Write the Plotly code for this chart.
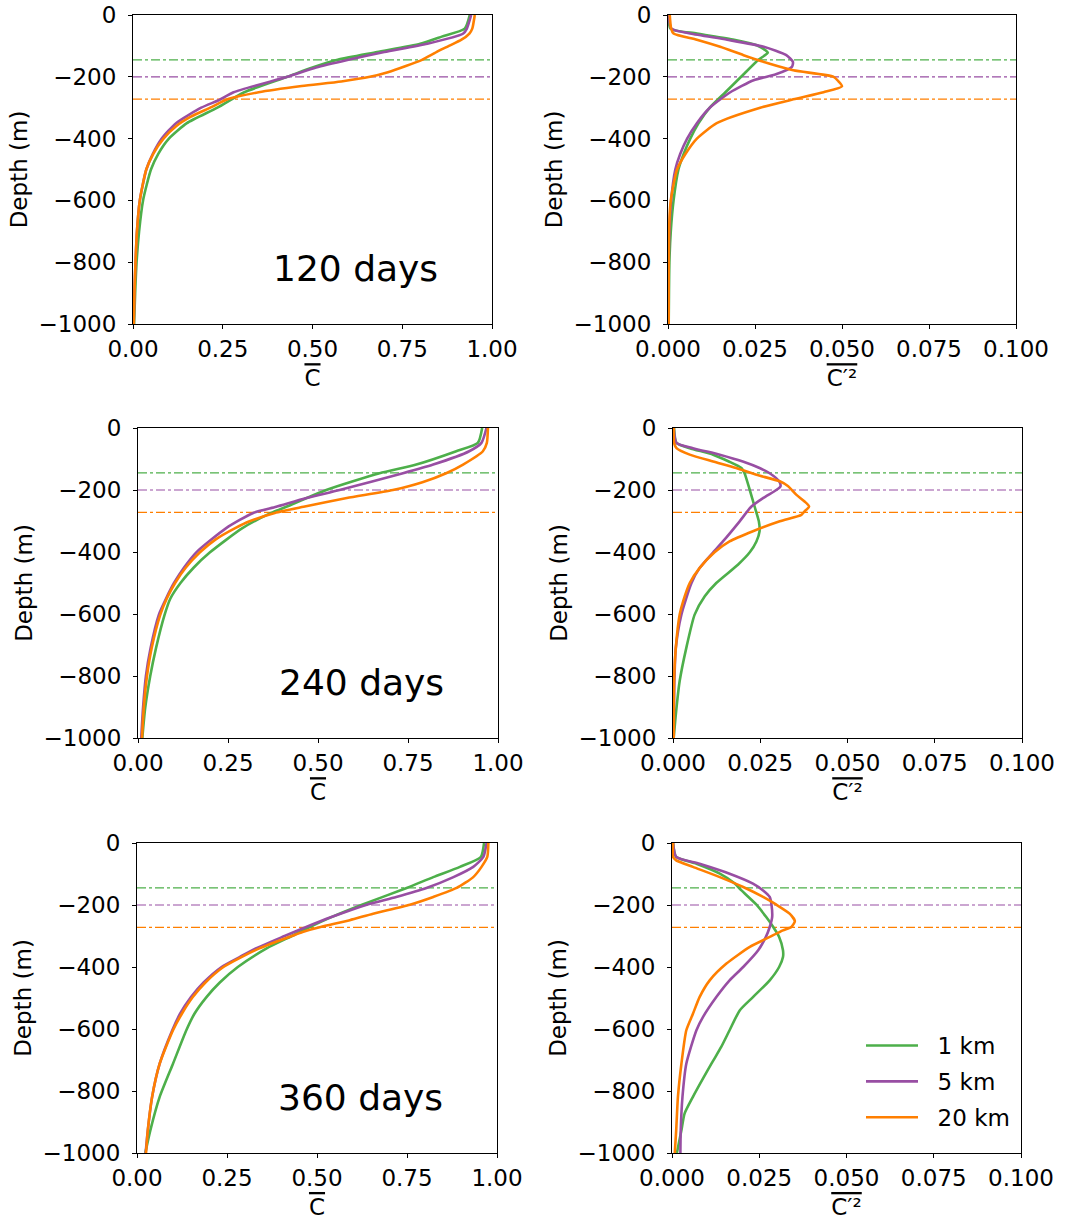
import plotly.graph_objects as go

# ---------------- data ----------------
labels = ["1 km", "5 km", "20 km"]
colors = ["#4daf4a", "#984ea3", "#ff7f00"]
days_labels = ["120 days", "240 days", "360 days"]
mld_depths = [-145, -200, -272]
ytick_vals = [0, -200, -400, -600, -800, -1000]
ytick_text = ["0", "\u2212200", "\u2212400", "\u2212600", "\u2212800", "\u22121000"]
xtick_mean = [0, 0.25, 0.5, 0.75, 1.0]
xtick_var = [0, 0.025, 0.05, 0.075, 0.1]

# 120 days, mean C
c120_1_z = [0, -44, -70, -93, -120, -145, -170, -200, -250, -300, -350, -400, -450, -500, -600, -700, -800, -900, -1000]
c120_1 = [0.938, 0.924, 0.86, 0.80, 0.68, 0.57, 0.50, 0.43, 0.31, 0.235, 0.15, 0.10, 0.07, 0.05, 0.028, 0.017, 0.01, 0.006, 0.003]
c120_5_z = [0, -44, -60, -93, -120, -145, -170, -200, -250, -275, -300, -350, -400, -450, -500, -600, -700, -800, -900, -1000]
c120_5 = [0.942, 0.93, 0.92, 0.82, 0.70, 0.60, 0.51, 0.43, 0.28, 0.24, 0.19, 0.12, 0.08, 0.055, 0.037, 0.019, 0.011, 0.007, 0.004, 0.002]
c120_20_z = [0, -44, -60, -80, -100, -120, -145, -165, -185, -200, -215, -230, -250, -272, -300, -330, -360, -400, -450, -500, -600, -700, -800, -900, -1000]
c120_20 = [0.952, 0.945, 0.937, 0.915, 0.88, 0.845, 0.805, 0.76, 0.71, 0.66, 0.58, 0.47, 0.35, 0.265, 0.215, 0.16, 0.12, 0.085, 0.056, 0.037, 0.019, 0.011, 0.007, 0.004, 0.002]

# 120 days, variance
v120_1_z = [0, -44, -60, -80, -98, -114, -122, -145, -200, -250, -300, -350, -400, -450, -500, -600, -700, -800, -1000]
v120_1 = [0.0002, 0.0007, 0.0083, 0.019, 0.0255, 0.028, 0.0287, 0.026, 0.021, 0.0165, 0.012, 0.0088, 0.0064, 0.0045, 0.003, 0.0016, 0.0008, 0.0004, 0.0002]
v120_5_z = [0, -44, -60, -80, -103, -130, -152, -168, -192, -211, -250, -300, -350, -400, -450, -500, -600, -700, -800, -1000]
v120_5 = [0.0002, 0.001, 0.0064, 0.017, 0.0275, 0.034, 0.0359, 0.0356, 0.031, 0.0246, 0.0179, 0.012, 0.0083, 0.0055, 0.0035, 0.0021, 0.0009, 0.0004, 0.0002, 0.0001]
v120_20_z = [0, -44, -60, -80, -103, -130, -157, -179, -200, -215, -231, -250, -273, -300, -350, -400, -450, -500, -600, -700, -1000]
v120_20 = [0.0005, 0.0009, 0.0016, 0.0083, 0.015, 0.0217, 0.029, 0.036, 0.0476, 0.049, 0.050, 0.0447, 0.036, 0.0265, 0.014, 0.0083, 0.005, 0.0026, 0.0008, 0.0003, 0.0002]

# 240 days, mean C
c240_1_z = [0, -48, -75, -118, -146, -200, -254, -274, -323, -401, -450, -500, -550, -602, -710, -800, -903, -1000]
c240_1 = [0.956, 0.944, 0.884, 0.773, 0.671, 0.523, 0.412, 0.37, 0.29, 0.20, 0.155, 0.118, 0.09, 0.074, 0.05, 0.034, 0.02, 0.012]
c240_5_z = [0, -48, -75, -118, -146, -200, -226, -254, -274, -323, -401, -450, -500, -550, -602, -710, -800, -903, -1000]
c240_5 = [0.968, 0.954, 0.92, 0.82, 0.736, 0.56, 0.468, 0.384, 0.32, 0.245, 0.162, 0.128, 0.10, 0.078, 0.058, 0.035, 0.022, 0.014, 0.009]
c240_20_z = [0, -48, -75, -118, -146, -175, -200, -226, -254, -274, -301, -323, -360, -401, -450, -500, -550, -602, -710, -800, -903, -1000]
c240_20 = [0.972, 0.969, 0.958, 0.903, 0.856, 0.79, 0.708, 0.58, 0.46, 0.38, 0.31, 0.27, 0.215, 0.172, 0.133, 0.103, 0.08, 0.062, 0.038, 0.025, 0.016, 0.011]

# 240 days, variance
v240_1_z = [0, -48, -65, -86, -108, -129, -146, -200, -254, -301, -333, -366, -401, -441, -500, -543, -602, -710, -817, -925, -1000]
v240_1 = [0.0003, 0.001, 0.0048, 0.0115, 0.016, 0.0196, 0.0205, 0.022, 0.0234, 0.0246, 0.0248, 0.0239, 0.022, 0.0186, 0.0124, 0.0091, 0.0062, 0.0038, 0.0019, 0.0008, 0.0002]
v240_5_z = [0, -48, -65, -86, -108, -129, -146, -172, -188, -200, -226, -254, -301, -366, -401, -452, -500, -602, -710, -817, -1000]
v240_5 = [0.0002, 0.001, 0.0057, 0.0134, 0.02, 0.0248, 0.0277, 0.0304, 0.0308, 0.0296, 0.0258, 0.0224, 0.0191, 0.0143, 0.0115, 0.0076, 0.0053, 0.0024, 0.0008, 0.0004, 0.0002]
v240_20_z = [0, -48, -65, -86, -108, -129, -151, -172, -188, -215, -237, -253, -269, -280, -301, -333, -366, -401, -452, -500, -559, -602, -710, -817, -1000]
v240_20 = [0.0002, 0.0003, 0.001, 0.0048, 0.0115, 0.0181, 0.0239, 0.0306, 0.033, 0.0353, 0.0377, 0.039, 0.0377, 0.0368, 0.0306, 0.0229, 0.0162, 0.0119, 0.0076, 0.0048, 0.0029, 0.0019, 0.0008, 0.0003, 0.0002]

# 360 days, mean C
c360_1_z = [0, -45, -77, -110, -145, -199, -239, -271, -300, -340, -400, -450, -497, -550, -604, -712, -819, -927, -1000]
c360_1 = [0.964, 0.955, 0.897, 0.823, 0.749, 0.625, 0.54, 0.48, 0.43, 0.36, 0.28, 0.23, 0.193, 0.16, 0.137, 0.10, 0.063, 0.037, 0.023]
c360_5_z = [0, -45, -77, -110, -145, -174, -199, -239, -271, -300, -340, -368, -400, -450, -497, -550, -604, -712, -819, -927, -1000]
c360_5 = [0.971, 0.962, 0.934, 0.879, 0.804, 0.72, 0.638, 0.54, 0.47, 0.41, 0.33, 0.285, 0.235, 0.185, 0.15, 0.12, 0.098, 0.063, 0.042, 0.03, 0.024]
c360_20_z = [0, -45, -77, -110, -145, -174, -199, -228, -249, -271, -287, -300, -340, -368, -400, -450, -497, -550, -604, -712, -819, -927, -1000]
c360_20 = [0.976, 0.973, 0.957, 0.934, 0.888, 0.823, 0.758, 0.656, 0.591, 0.51, 0.46, 0.43, 0.34, 0.29, 0.24, 0.19, 0.155, 0.125, 0.10, 0.063, 0.042, 0.03, 0.025]

# 360 days, variance
v360_1_z = [0, -45, -67, -99, -131, -153, -199, -239, -271, -303, -346, -368, -400, -443, -497, -540, -604, -658, -712, -819, -873, -927, -1000]
v360_1 = [0.0003, 0.0012, 0.007, 0.0137, 0.018, 0.0199, 0.0242, 0.027, 0.029, 0.0307, 0.0318, 0.0318, 0.0307, 0.028, 0.0232, 0.0194, 0.0165, 0.0141, 0.0113, 0.006, 0.0036, 0.0027, 0.0014]
v360_5_z = [0, -45, -67, -99, -131, -153, -174, -199, -239, -271, -303, -346, -400, -443, -497, -561, -604, -712, -819, -927, -1000]
v360_5 = [0.0003, 0.0012, 0.0079, 0.0165, 0.0232, 0.0261, 0.028, 0.0285, 0.0287, 0.028, 0.0269, 0.0247, 0.0204, 0.0165, 0.0127, 0.0089, 0.007, 0.0041, 0.003, 0.0025, 0.0024]
v360_20_z = [0, -45, -56, -77, -110, -142, -174, -199, -228, -252, -271, -282, -303, -335, -389, -443, -497, -551, -604, -712, -819, -927, -1000]
v360_20 = [0.0003, 0.0003, 0.0012, 0.006, 0.0137, 0.0204, 0.0261, 0.0299, 0.0337, 0.0352, 0.0342, 0.0318, 0.028, 0.0223, 0.0156, 0.0108, 0.0079, 0.006, 0.0041, 0.0027, 0.0017, 0.0012, 0.0008]

mean_panels = [
    [(c120_1, c120_1_z), (c120_5, c120_5_z), (c120_20, c120_20_z)],
    [(c240_1, c240_1_z), (c240_5, c240_5_z), (c240_20, c240_20_z)],
    [(c360_1, c360_1_z), (c360_5, c360_5_z), (c360_20, c360_20_z)],
]
var_panels = [
    [(v120_1, v120_1_z), (v120_5, v120_5_z), (v120_20, v120_20_z)],
    [(v240_1, v240_1_z), (v240_5, v240_5_z), (v240_20, v240_20_z)],
    [(v360_1, v360_1_z), (v360_5, v360_5_z), (v360_20, v360_20_z)],
]

# ---------------- layout geometry (pixels) ----------------
W, H = 1078, 1220
left_x = [(133, 492), (138, 498), (137, 497)]
right_x = [(668, 1016), (673, 1022), (672, 1021)]
rows_y = [(15, 324), (428, 738), (843, 1153)]

FONT = "DejaVu Sans"
fig = go.Figure()

def ax_names(i):
    n = "" if i == 1 else str(i)
    return "x" + n, "y" + n, "xaxis" + n, "yaxis" + n

layout = {}
for r in range(3):
    for c in range(2):
        idx = r * 2 + c + 1
        xr, yr, xk, yk = ax_names(idx)
        xpx = left_x[r] if c == 0 else right_x[r]
        ypx = rows_y[r]
        is_mean = (c == 0)
        xmax = 1.0 if is_mean else 0.1
        layout[xk] = dict(
            domain=[xpx[0] / W, xpx[1] / W], anchor=yr, range=[0, xmax],
            automargin=False,
            tickvals=xtick_mean if is_mean else xtick_var,
            tickformat=".2f" if is_mean else ".3f",
            showline=True, linecolor="black", linewidth=1, mirror=True,
            ticks="outside", ticklen=4, tickwidth=1, tickcolor="black",
            showgrid=False, zeroline=False,
            tickfont=dict(family=FONT, size=23, color="black"),
            title=dict(
                text=('<span style="text-decoration:overline">C</span>' if is_mean
                      else '<span style="text-decoration:overline">C\u2032\u00b2</span>'),
                font=dict(family=FONT, size=23, color="black"), standoff=9),
        )
        layout[yk] = dict(
            domain=[1 - ypx[1] / H, 1 - ypx[0] / H], anchor=xr, range=[-1000, 0],
            automargin=False,
            tickvals=ytick_vals, ticktext=ytick_text,
            showline=True, linecolor="black", linewidth=1, mirror=True,
            ticks="outside", ticklen=4, tickwidth=1, tickcolor="black",
            ticklabelstandoff=7,
            showgrid=False, zeroline=False,
            tickfont=dict(family=FONT, size=23, color="black"),
            title=dict(text="Depth (m)", font=dict(family=FONT, size=23, color="black"), standoff=4),
        )

        panel = mean_panels[r] if is_mean else var_panels[r]
        # mixed layer depth reference lines
        for k, d in enumerate(mld_depths):
            fig.add_trace(go.Scatter(
                x=[0, xmax], y=[d, d], mode="lines", xaxis=xr, yaxis=yr,
                line=dict(color=colors[k], width=1.2, dash="dashdot"),
                showlegend=False, hoverinfo="skip"))
        for k, (vals, zs) in enumerate(panel):
            fig.add_trace(go.Scatter(
                x=vals, y=zs, mode="lines", xaxis=xr, yaxis=yr,
                line=dict(color=colors[k], width=2.6, shape="spline", smoothing=0.6),
                name="\u00a0\u00a0" + labels[k], legendgroup=labels[k],
                showlegend=(r == 2 and c == 1)))
        if is_mean:
            fig.add_annotation(
                x=0.62, y=-820, xref=xr, yref=yr, text=days_labels[r],
                showarrow=False, font=dict(family=FONT, size=36, color="black"))

fig.update_layout(
    width=W, height=H, margin=dict(l=0, r=0, t=0, b=0),
    paper_bgcolor="white", plot_bgcolor="white",
    font=dict(family=FONT, color="black"),
    legend=dict(x=861 / W, y=1 - 1024 / H, xanchor="left", yanchor="top",
                font=dict(family=FONT, size=23, color="black"),
                bgcolor="rgba(0,0,0,0)", tracegroupgap=3, itemwidth=52),
    **layout,
)

fig.write_html("out.html")
